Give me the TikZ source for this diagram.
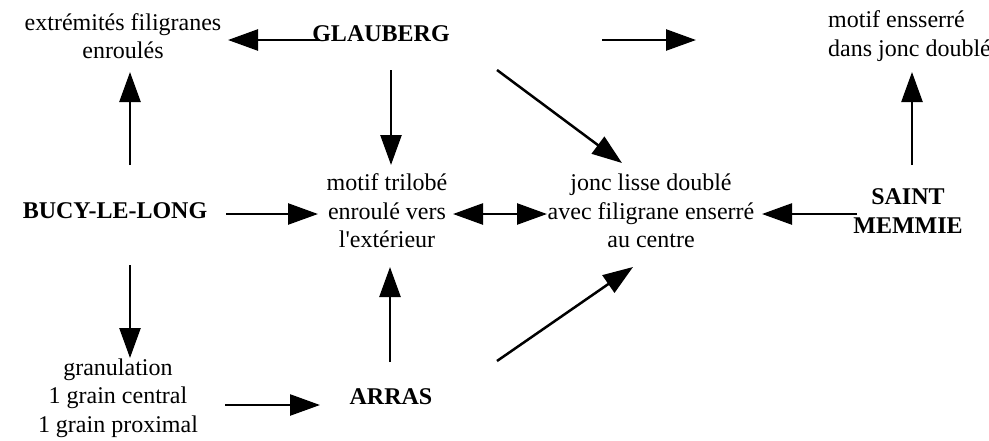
\documentclass[tikz,border=0pt]{standalone}
\usepackage{fontspec}
\setmainfont{Liberation Serif}
\usetikzlibrary{arrows.meta}

\begin{document}
\begin{tikzpicture}[x=1pt,y=-1pt,
    txt/.style={inner sep=0pt,align=center,font=\fontsize{24}{28.5}\selectfont},
    site/.style={txt,font=\fontsize{24}{28.5}\selectfont\bfseries},
    arr/.style={line width=2.5pt,-{Triangle[length=30pt,width=21pt]}},
    darr/.style={line width=2.5pt,{Triangle[length=30pt,width=21pt]}-{Triangle[length=30pt,width=21pt]}}]
    \useasboundingbox (0,0) rectangle (989,440);

    % sites
    \node[site] (glauberg) at (381,34) {GLAUBERG};
    \node[site] (bucy) at (115,211) {BUCY-LE-LONG};
    \node[site] (memmie) at (908,211) {SAINT\\MEMMIE};
    \node[site] (arras) at (391,397) {ARRAS};

    % motifs
    \node[txt] (ext) at (123,36) {extrémités filigranes\\enroulés};
    \node[txt,align=left,anchor=west] (ensserre) at (828,36) {motif ensserré\\dans jonc doublé};
    \node[txt] (trilobe) at (387,211) {motif trilobé\\enroulé vers\\l\textquotesingle extérieur};
    \node[txt] (jonc) at (651,211) {jonc lisse doublé\\avec filigrane enserré\\au centre};
    \node[txt] (gran) at (118,398) {granulation\\1 grain central\\1 grain proximal};

    % liens
    \draw[arr] ([shift={(-61,6)}]glauberg.center) -- ([shift={(105,4)}]ext.center);
    \draw[arr] ([shift={(221,6)}]glauberg.center) -- ([shift={(-132,4)}]ensserre.west);
    \draw[arr] ([shift={(10,36)}]glauberg.center) -- ([shift={(4,-46)}]trilobe.center);
    \draw[arr] ([shift={(116,36)}]glauberg.center) -- ([shift={(-29,-48)}]jonc.center);
    \draw[arr] ([shift={(15,-46)}]bucy.center) -- ([shift={(7,36)}]ext.center);
    \draw[arr] ([shift={(111,3)}]bucy.center) -- ([shift={(-69,3)}]trilobe.center);
    \draw[arr] ([shift={(15,54)}]bucy.center) -- ([shift={(12,-40)}]gran.center);
    \draw[darr] ([shift={(66,3)}]trilobe.center) -- ([shift={(-104,3)}]jonc.center);
    \draw[arr] ([shift={(-51,3)}]memmie.center) -- ([shift={(111,3)}]jonc.center);
    \draw[arr] ([shift={(4,-46)}]memmie.center) -- ([shift={(84,36)}]ensserre.west);
    \draw[arr] ([shift={(107,7)}]gran.center) -- ([shift={(-71,8)}]arras.center);
    \draw[arr] ([shift={(-1,-35)}]arras.center) -- ([shift={(3,56)}]trilobe.center);
    \draw[arr] ([shift={(106,-36)}]arras.center) -- ([shift={(-18,56)}]jonc.center);
\end{tikzpicture}
\end{document}
